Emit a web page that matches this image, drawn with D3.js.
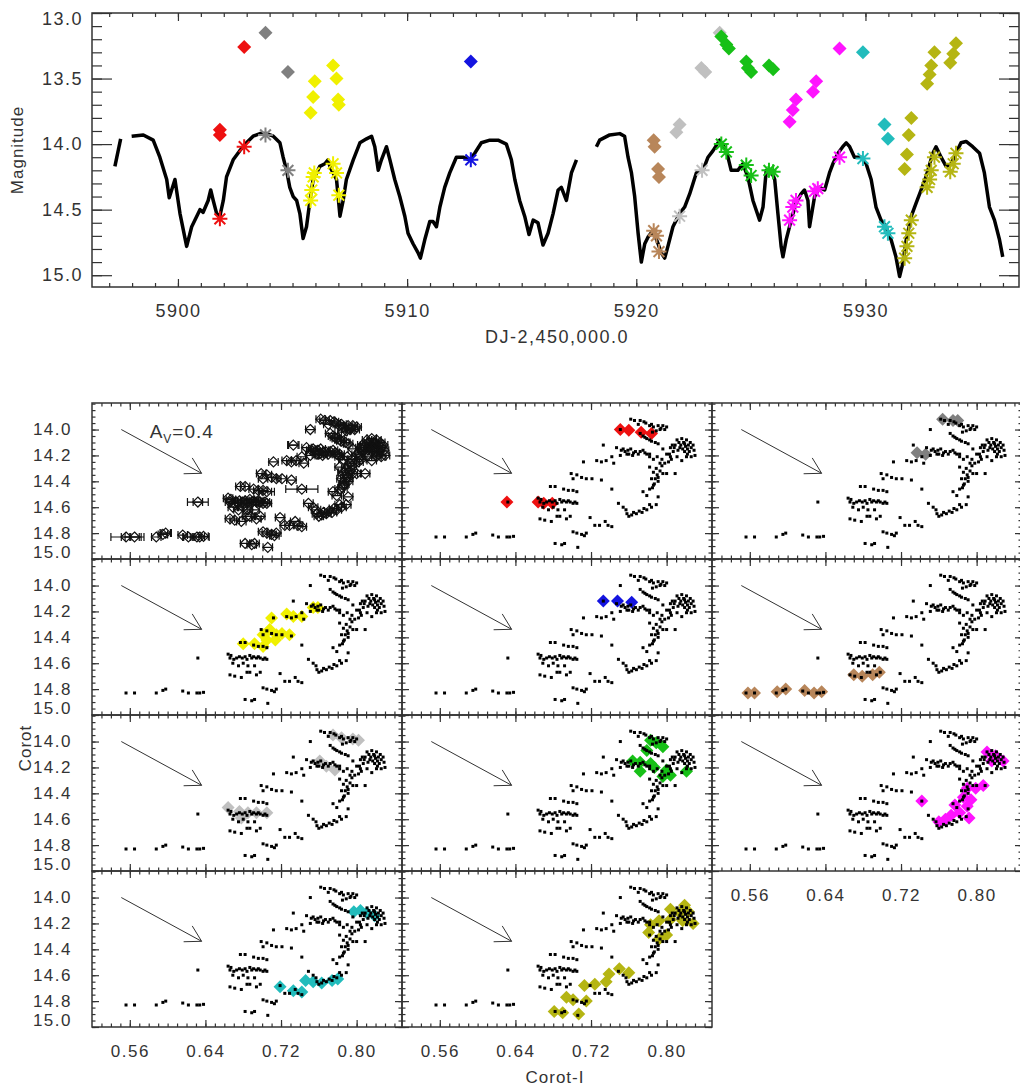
<!DOCTYPE html>
<html>
<head>
<meta charset="utf-8">
<script src="https://cdn.jsdelivr.net/npm/d3@7"></script>
<style>
  body { margin: 0; background: #fff; }
  text { font-family: "Liberation Sans", Arial, sans-serif; fill: #333; }
</style>
</head>
<body>
<div id="chart"></div>
<script>
// ---- Light curve (Corot) ----
const lcPart1 = [[5897.25,14.17],[5897.50,13.96]];
const lcPart2 = [[5897.98,13.94],[5898.49,13.93],[5898.92,13.97],[5899.21,14.10],[5899.51,14.27],[5899.62,14.41],[5899.87,14.27],[5900.09,14.53],[5900.38,14.78],[5900.60,14.63],[5900.96,14.50],[5901.10,14.52],[5901.32,14.43],[5901.43,14.35],[5901.54,14.43],[5901.69,14.53],[5901.83,14.55],[5901.98,14.43],[5902.12,14.25],[5902.41,14.12],[5902.70,14.05],[5902.99,13.99],[5903.28,13.94],[5903.58,13.92],[5903.87,13.92],[5904.16,13.94],[5904.45,13.99],[5904.59,14.10],[5904.74,14.20],[5904.88,14.33],[5905.03,14.40],[5905.18,14.43],[5905.32,14.53],[5905.46,14.72],[5905.61,14.63],[5905.76,14.43],[5905.90,14.27],[5906.05,14.22],[5906.19,14.17],[5906.41,14.15],[5906.55,14.12],[5906.63,14.17],[5906.77,14.22],[5906.92,14.27],[5907.07,14.55],[5907.21,14.43],[5907.35,14.27],[5907.65,14.12],[5907.94,13.99],[5908.23,13.96],[5908.45,13.94],[5908.59,14.02],[5908.74,14.20],[5908.88,14.12],[5909.10,14.02],[5909.25,14.12],[5909.46,14.27],[5909.68,14.40],[5909.90,14.55],[5910.04,14.68],[5910.26,14.76],[5910.48,14.83],[5910.58,14.87],[5910.77,14.73],[5910.99,14.59],[5911.13,14.59],[5911.28,14.63],[5911.43,14.48],[5911.64,14.33],[5911.86,14.22],[5912.15,14.10],[5912.44,14.10],[5912.73,14.12],[5912.95,14.07],[5913.24,13.99],[5913.61,13.97],[5913.97,13.97],[5914.33,14.00],[5914.55,14.12],[5914.70,14.27],[5914.91,14.43],[5915.13,14.55],[5915.32,14.69],[5915.50,14.58],[5915.71,14.60],[5915.93,14.77],[5916.15,14.68],[5916.37,14.53],[5916.59,14.35],[5916.73,14.33],[5916.95,14.43],[5917.17,14.22],[5917.39,14.12]];
const lcPart3 = [[5918.26,14.02],[5918.40,13.97],[5918.84,13.93],[5919.28,13.92],[5919.49,13.94],[5919.64,14.10],[5919.79,14.22],[5919.93,14.40],[5920.08,14.68],[5920.22,14.90],[5920.37,14.76],[5920.51,14.71],[5920.73,14.66],[5920.95,14.76],[5921.09,14.83],[5921.24,14.87],[5921.38,14.78],[5921.60,14.63],[5921.89,14.53],[5922.11,14.48],[5922.33,14.38],[5922.62,14.22],[5922.91,14.20],[5923.13,14.10],[5923.35,14.05],[5923.64,13.97],[5923.93,14.05],[5924.14,14.20],[5924.43,14.20],[5924.65,14.15],[5924.87,14.25],[5925.09,14.43],[5925.38,14.58],[5925.53,14.48],[5925.67,14.20],[5925.88,14.20],[5926.04,14.27],[5926.18,14.53],[5926.32,14.78],[5926.40,14.86],[5926.54,14.73],[5926.76,14.58],[5926.97,14.45],[5927.19,14.38],[5927.34,14.35],[5927.49,14.43],[5927.56,14.63],[5927.78,14.40],[5928.00,14.33],[5928.22,14.35],[5928.43,14.22],[5928.58,14.15],[5928.80,14.07],[5929.01,14.02],[5929.16,13.99],[5929.31,14.02],[5929.52,14.10],[5929.81,14.10],[5930.03,14.15],[5930.25,14.27],[5930.46,14.48],[5930.68,14.58],[5930.90,14.63],[5931.12,14.73],[5931.33,14.86],[5931.49,15.01],[5931.63,14.91],[5931.78,14.73],[5932.00,14.55],[5932.21,14.45],[5932.43,14.35],[5932.64,14.25],[5932.94,14.07],[5933.08,14.02],[5933.30,14.10],[5933.52,14.17],[5933.74,14.15],[5933.95,14.07],[5934.17,13.99],[5934.39,13.98],[5934.68,14.02],[5934.98,14.07],[5935.19,14.22],[5935.41,14.48],[5935.63,14.58],[5935.85,14.73],[5935.99,14.86]];

// ---- Coloured epochs on the light curve: diamonds (other band) and asterisks (Corot) ----
const redDiamonds = [[5901.83,13.89],[5901.83,13.93],[5902.89,13.26]];
const redStars = [[5901.83,14.57],[5902.89,14.02]];
const grayDiamonds = [[5903.82,13.15],[5904.80,13.45]];
const grayStars = [[5903.82,13.93],[5904.80,14.20]];
const yellowDiamonds = [[5905.79,13.76],[5905.90,13.64],[5905.97,13.52],[5906.77,13.40],[5906.92,13.50],[5906.99,13.66],[5907.02,13.70]];
const yellowStars = [[5905.79,14.43],[5905.84,14.35],[5905.90,14.25],[5905.95,14.22],[5906.77,14.15],[5906.92,14.22],[5907.02,14.39]];
const blueDiamonds = [[5912.78,13.37]];
const blueStars = [[5912.78,14.12]];
const brownDiamonds = [[5920.76,13.97],[5920.80,14.02],[5920.95,14.19],[5920.99,14.25]];
const brownStars = [[5920.76,14.66],[5920.88,14.70],[5920.99,14.82]];
const silverDiamonds = [[5921.75,13.91],[5921.89,13.85],[5922.84,13.42],[5923.01,13.45],[5923.64,13.15]];
const silverStars = [[5921.89,14.55],[5922.87,14.20]];
const greenDiamonds = [[5923.71,13.18],[5923.93,13.24],[5924.04,13.27],[5924.80,13.37],[5924.87,13.42],[5925.01,13.45],[5925.79,13.40],[5925.97,13.43]];
const greenStars = [[5923.71,14.00],[5923.93,14.06],[5924.80,14.16],[5925.01,14.24],[5925.79,14.20],[5925.97,14.21]];
const magentaDiamonds = [[5926.69,13.83],[5926.83,13.74],[5926.97,13.66],[5927.71,13.60],[5927.85,13.52],[5928.87,13.27]];
const magentaStars = [[5926.69,14.58],[5926.83,14.48],[5926.97,14.43],[5927.78,14.36],[5927.92,14.34],[5928.87,14.10]];
const cyanDiamonds = [[5929.89,13.30],[5930.83,13.85],[5930.98,13.96]];
const cyanStars = [[5929.89,14.11],[5930.83,14.63],[5930.98,14.68]];
const oliveDiamonds = [[5931.71,14.19],[5931.81,14.08],[5931.89,13.93],[5932.00,13.80],[5932.69,13.54],[5932.80,13.47],[5932.87,13.40],[5933.01,13.30],[5933.70,13.38],[5933.83,13.31],[5933.95,13.23]];
const oliveStars = [[5931.71,14.87],[5931.81,14.78],[5931.89,14.68],[5932.00,14.58],[5932.69,14.33],[5932.80,14.27],[5932.87,14.20],[5933.01,14.10],[5933.70,14.21],[5933.83,14.15],[5933.95,14.07]];

// ---- Colour-magnitude diagram: all points (Corot-I, Corot) ----
const cmdPoints = [
  [0.556,14.83],[0.565,14.83],[0.588,14.83],[0.595,14.81],[0.598,14.80],[0.616,14.815],[0.622,14.83],[0.631,14.83],[0.634,14.83],[0.638,14.825],
  [0.632,14.56],
  [0.664,14.53],[0.666,14.56],[0.669,14.60],[0.673,14.56],[0.676,14.55],[0.682,14.55],[0.687,14.54],[0.691,14.55],[0.694,14.56],[0.698,14.56],[0.701,14.57],[0.705,14.57],[0.680,14.60],[0.675,14.62],[0.685,14.62],[0.692,14.62],
  [0.667,14.54],[0.679,14.56],[0.689,14.56],[0.696,14.55],[0.703,14.56],[0.670,14.57],[0.684,14.57],
  [0.677,14.44],[0.682,14.44],[0.691,14.46],[0.696,14.47],[0.701,14.47],[0.705,14.48],
  [0.701,14.38],[0.699,14.34],[0.705,14.35],[0.710,14.37],[0.715,14.38],[0.721,14.38],[0.731,14.39],
  [0.712,14.25],[0.726,14.24],[0.731,14.25],[0.736,14.24],[0.744,14.26],[0.742,14.21],[0.751,14.20],[0.758,14.19],[0.733,14.12],
  [0.666,14.69],[0.671,14.70],[0.678,14.71],[0.684,14.67],[0.687,14.67],[0.694,14.69],[0.698,14.67],[0.701,14.79],[0.705,14.80],[0.710,14.81],[0.713,14.82],[0.715,14.80],[0.682,14.88],[0.689,14.89],[0.692,14.88],[0.706,14.91],
  [0.719,14.68],[0.724,14.74],[0.729,14.74],[0.735,14.71],[0.738,14.74],[0.742,14.75],[0.742,14.46],[0.749,14.57],[0.754,14.60],[0.758,14.65],[0.763,14.66],[0.768,14.65],[0.774,14.64],[0.779,14.62],[0.784,14.60],[0.789,14.58],[0.791,14.52],
  [0.757,14.62],[0.765,14.64],[0.771,14.63],[0.760,14.67],[0.776,14.61],[0.782,14.58],
  [0.775,14.48],[0.779,14.51],[0.782,14.46],[0.786,14.43],[0.784,14.38],[0.788,14.38],[0.791,14.37],[0.796,14.34],[0.800,14.34],[0.809,14.34],[0.786,14.33],[0.789,14.30],[0.793,14.26],[0.798,14.26],[0.802,14.25],[0.795,14.23],[0.804,14.21],[0.811,14.21],[0.821,14.21],[0.826,14.21],[0.816,14.24],[0.782,14.29],[0.791,14.40],
  [0.793,14.32],[0.790,14.35],[0.787,14.42],[0.785,14.45],[0.795,14.28],[0.805,14.23],
  [0.747,14.14],[0.754,14.15],[0.759,14.16],[0.762,14.15],[0.767,14.17],[0.770,14.19],[0.775,14.16],[0.779,14.19],[0.760,14.19],[0.756,14.17],[0.786,14.23],[0.782,14.19],
  [0.765,14.18],[0.772,14.17],[0.777,14.18],[0.752,14.16],[0.764,14.20],[0.782,14.21],[0.790,14.21],[0.800,14.19],
  [0.751,14.00],[0.762,13.92],[0.772,13.93],[0.776,13.94],[0.782,13.97],[0.786,13.98],[0.791,13.97],[0.796,13.97],[0.800,13.98],[0.789,14.01],[0.793,14.00],[0.772,14.03],[0.775,14.05],[0.779,14.07],[0.782,14.08],[0.788,14.10],[0.791,14.11],
  [0.778,13.95],[0.784,13.96],[0.794,13.99],[0.798,14.00],[0.785,14.02],[0.777,14.06],[0.784,14.09],[0.766,13.93],[0.770,13.96],
  [0.796,14.15],[0.804,14.14],[0.809,14.12],[0.814,14.14],[0.819,14.11],[0.823,14.12],[0.826,14.14],[0.811,14.08],[0.816,14.07],[0.818,14.10],[0.821,14.08],[0.825,14.10],[0.812,14.16],[0.819,14.17],[0.807,14.17],
  [0.806,14.12],[0.815,14.12],[0.822,14.15],[0.828,14.12],[0.813,14.10],[0.808,14.14],[0.817,14.15],[0.824,14.17],[0.829,14.16],[0.820,14.13],[0.803,14.19],[0.830,14.20],[0.822,14.19]
];
// points with wide colour error bars (colour, magnitude, half-width)
const wideBars = [[0.556,14.83,0.016],[0.565,14.83,0.010],[0.598,14.80,0.006],[0.622,14.83,0.006],[0.634,14.83,0.010],[0.632,14.56,0.011],[0.742,14.46,0.017],[0.733,14.12,0.006],[0.705,14.48,0.008],[0.786,14.33,0.006]];

// ---- Highlighted CMD epochs per colour ----
const cmdRed = [[0.631,14.56],[0.664,14.56],[0.670,14.57],[0.679,14.57],[0.751,14.00],[0.760,14.005],[0.773,14.02],[0.784,14.03]];
const cmdGray = [[0.764,13.92],[0.775,13.93],[0.780,13.93],[0.737,14.18],[0.746,14.19]];
const cmdYellow = [[0.680,14.45],[0.692,14.45],[0.701,14.47],[0.705,14.42],[0.714,14.42],[0.701,14.38],[0.708,14.34],[0.715,14.38],[0.721,14.37],[0.729,14.38],[0.710,14.25],[0.726,14.22],[0.733,14.24],[0.742,14.24],[0.754,14.17],[0.759,14.17]];
const cmdBlue = [[0.733,14.12],[0.748,14.12],[0.763,14.13]];
const cmdBrown = [[0.558,14.83],[0.565,14.83],[0.589,14.82],[0.598,14.80],[0.618,14.81],[0.628,14.83],[0.636,14.82],[0.670,14.69],[0.679,14.70],[0.690,14.69],[0.697,14.67]];
const cmdSilver = [[0.664,14.51],[0.676,14.54],[0.685,14.55],[0.694,14.55],[0.705,14.55],[0.678,14.59],[0.761,14.15],[0.768,14.19],[0.777,14.22],[0.775,13.95],[0.784,13.97],[0.796,13.98],[0.802,13.99]];
const cmdGreen = [[0.783,13.99],[0.789,14.01],[0.779,14.07],[0.796,14.04],[0.764,14.15],[0.772,14.16],[0.783,14.17],[0.772,14.23],[0.787,14.20],[0.800,14.22],[0.804,14.26],[0.821,14.23],[0.796,14.27]];
const cmdMagenta = [[0.811,14.08],[0.820,14.11],[0.828,14.15],[0.816,14.15],[0.807,14.34],[0.799,14.36],[0.790,14.36],[0.786,14.43],[0.794,14.45],[0.777,14.49],[0.790,14.50],[0.782,14.55],[0.792,14.59],[0.773,14.57],[0.760,14.62],[0.767,14.60],[0.742,14.46]];
const cmdCyan = [[0.719,14.69],[0.733,14.72],[0.742,14.73],[0.746,14.64],[0.754,14.65],[0.763,14.66],[0.774,14.64],[0.780,14.63],[0.797,14.11],[0.804,14.10],[0.811,14.12],[0.819,14.14]];
const cmdOlive = [[0.681,14.88],[0.690,14.89],[0.707,14.90],[0.694,14.77],[0.701,14.79],[0.715,14.80],[0.713,14.68],[0.724,14.67],[0.736,14.65],[0.739,14.59],[0.750,14.55],[0.760,14.58],[0.781,14.27],[0.792,14.32],[0.800,14.29],[0.783,14.21],[0.792,14.18],[0.804,14.17],[0.817,14.18],[0.828,14.20],[0.804,14.09],[0.819,14.06],[0.823,14.11],[0.814,14.12]];

const groupColors = ["#ee1111","#808080","#f0f000","#1414e0","#b8865a","#c0c0c0","#17c017","#ff14ff","#22bcbc","#b5b513"];
const diamondSets = [redDiamonds, grayDiamonds, yellowDiamonds, blueDiamonds, brownDiamonds, silverDiamonds, greenDiamonds, magentaDiamonds, cyanDiamonds, oliveDiamonds];
const starSets = [redStars, grayStars, yellowStars, blueStars, brownStars, silverStars, greenStars, magentaStars, cyanStars, oliveStars];
const cmdSets = [cmdRed, cmdGray, cmdYellow, cmdBlue, cmdBrown, cmdSilver, cmdGreen, cmdMagenta, cmdCyan, cmdOlive];

const reddening = [[0.551,14.0],[0.636,14.338]];   // A_V = 0.4 vector

// ---- SVG ----
const svg = d3.select("#chart").append("svg")
  .attr("width", 1020).attr("height", 1088);

const diamond = r => `M0,${-r}L${r},0L0,${r}L${-r},0Z`;
const asterisk = r => {
  const q = r * 0.72;
  return `M${-r},0L${r},0M0,${-r}L0,${r}M${-q},${-q}L${q},${q}M${-q},${q}L${q},${-q}`;
};

// Draws ticks on the four sides of a box (ticks pointing inward), labels optional
function frame(g, xs, ys, w, h, o) {
  const add = (gen, tr) => {
    const a = g.append("g").attr("transform", tr).call(gen);
    a.select(".domain").remove();
    a.attr("font-family", null).attr("font-size", null).attr("color", "#333");
    a.selectAll("line").attr("stroke-width", 1.2);
    a.selectAll("text").style("font-size", o.fontSize + "px").style("letter-spacing", o.spacing + "px");
    return a;
  };
  const none = () => "";
  add(d3.axisBottom(xs).tickValues(o.xMinor).tickSize(-o.xMinLen).tickFormat(none), `translate(0,${h})`);
  add(d3.axisTop(xs).tickValues(o.xMinor).tickSize(-o.xMinLen).tickFormat(none), "translate(0,0)");
  add(d3.axisLeft(ys).tickValues(o.yMinor).tickSize(-o.yMinLen).tickFormat(none), "translate(0,0)");
  add(d3.axisRight(ys).tickValues(o.yMinor).tickSize(-o.yMinLen).tickFormat(none), `translate(${w},0)`);
  const bx = add(d3.axisBottom(xs).tickValues(o.xMajor).tickSize(-o.xMajLen).tickPadding(o.xPad)
    .tickFormat(o.xLabels ? o.xFmt : none), `translate(0,${h})`);
  add(d3.axisTop(xs).tickValues(o.xMajor).tickSize(-o.xMajLen).tickFormat(none), "translate(0,0)");
  const ly = add(d3.axisLeft(ys).tickValues(o.yMajor).tickSize(-o.yMajLen).tickPadding(o.yPad)
    .tickFormat(o.yLabels ? o.yFmt : none), "translate(0,0)");
  add(d3.axisRight(ys).tickValues(o.yMajor).tickSize(-o.yMajLen).tickFormat(none), `translate(${w},0)`);
  g.append("rect").attr("width", w).attr("height", h)
    .attr("fill", "none").attr("stroke", "#333").attr("stroke-width", 1.5);
  return { bx, ly };
}

// ================= Top panel: light curve =================
const tW = 927, tH = 274;
const topG = svg.append("g").attr("transform", "translate(92,13)");
const xTop = d3.scaleLinear().domain([5896.25, 5936.7]).range([0, tW]);
const yTop = d3.scaleLinear().domain([13.0, 15.09]).range([0, tH]);

const line = d3.line().x(d => xTop(d[0])).y(d => yTop(d[1]));
[lcPart1, lcPart2, lcPart3].forEach(seg => {
  topG.append("path").attr("d", line(seg))
    .attr("fill", "none").attr("stroke", "#000")
    .attr("stroke-width", 3.5).attr("stroke-linejoin", "round");
});

groupColors.forEach((col, i) => {
  topG.append("g").selectAll("path").data(diamondSets[i]).join("path")
    .attr("d", diamond(7))
    .attr("transform", d => `translate(${xTop(d[0])},${yTop(d[1])})`)
    .attr("fill", col);
  topG.append("g").selectAll("path").data(starSets[i]).join("path")
    .attr("d", asterisk(7.5))
    .attr("transform", d => `translate(${xTop(d[0])},${yTop(d[1])})`)
    .attr("fill", "none").attr("stroke", col).attr("stroke-width", 2);
});

const topAx = frame(topG, xTop, yTop, tW, tH, {
  xMajor: [5900, 5910, 5920, 5930], xMinor: d3.range(5897, 5937, 1),
  yMajor: [13.0, 13.5, 14.0, 14.5, 15.0], yMinor: d3.range(13.0, 15.09, 0.1),
  xMajLen: 8, xMinLen: 4, yMajLen: 20, yMinLen: 10,
  xLabels: true, yLabels: true, xFmt: d3.format("d"), yFmt: d3.format(".1f"),
  xPad: 17, yPad: 9, fontSize: 18, spacing: 1.5
});
topAx.ly.selectAll("text").filter(d => d === 13.0).attr("dy", "0.62em");

svg.append("text").attr("transform", "translate(23,150) rotate(-90)")
  .attr("text-anchor", "middle").style("font-size", "17px").style("letter-spacing", "1px")
  .text("Magnitude");
svg.append("text").attr("x", 557).attr("y", 343).attr("text-anchor", "middle")
  .style("font-size", "18px").style("letter-spacing", "1.5px")
  .text("DJ-2,450,000.0");

// ================= CMD panels =================
const pW = 310, pH = 156;
const colX = [92, 402, 712], rowY = [403, 559, 715, 871];
const cx = d3.scaleLinear().domain([0.52, 0.848]).range([0, pW]);
const cy = d3.scaleLinear().domain([13.795, 15.0]).range([0, pH]);

for (let i = 0; i < 11; i++) {
  const col = i % 3, row = Math.floor(i / 3);
  const p = svg.append("g").attr("transform", `translate(${colX[col]},${rowY[row]})`);

  if (i === 0) {
    // all epochs: open diamonds with colour error bars
    const eb = p.append("g").attr("stroke", "#111").attr("stroke-width", 1.2).attr("fill", "none");
    const bars = cmdPoints.map(d => [d[0], d[1], 0.005]).concat(wideBars);
    bars.forEach(d => {
      const x0 = cx(d[0] - d[2]), x1 = cx(d[0] + d[2]), y = cy(d[1]);
      eb.append("path").attr("d", `M${x0},${y}L${x1},${y}M${x0},${y - 4}L${x0},${y + 4}M${x1},${y - 4}L${x1},${y + 4}`);
    });
    eb.selectAll("path.dm").data(cmdPoints).join("path").attr("class", "dm")
      .attr("d", diamond(5))
      .attr("transform", d => `translate(${cx(d[0])},${cy(d[1])})`);
  } else {
    p.append("g").selectAll("path").data(cmdSets[i - 1]).join("path")
      .attr("d", diamond(6.5))
      .attr("transform", d => `translate(${cx(d[0])},${cy(d[1])})`)
      .attr("fill", groupColors[i - 1]);
    p.append("g").selectAll("rect").data(cmdPoints).join("rect")
      .attr("x", d => cx(d[0]) - 1.5).attr("y", d => cy(d[1]) - 1.5)
      .attr("width", 3).attr("height", 3).attr("fill", "#000");
  }

  // reddening arrow
  const ax0 = cx(reddening[0][0]), ay0 = cy(reddening[0][1]);
  const ax1 = cx(reddening[1][0]), ay1 = cy(reddening[1][1]);
  const ang = Math.atan2(ay1 - ay0, ax1 - ax0);
  const hl = 18, spread = Math.PI / 6;
  const h1 = [ax1 - hl * Math.cos(ang - spread), ay1 - hl * Math.sin(ang - spread)];
  const h2 = [ax1 - hl * Math.cos(ang + spread), ay1 - hl * Math.sin(ang + spread)];
  p.append("path")
    .attr("d", `M${ax0},${ay0}L${ax1},${ay1}M${h1[0]},${h1[1]}L${ax1},${ay1}L${h2[0]},${h2[1]}`)
    .attr("fill", "none").attr("stroke", "#333").attr("stroke-width", 1);

  if (i === 0) {
    const av = p.append("text").attr("x", cx(0.581)).attr("y", cy(14.0) + 8)
      .style("font-size", "19px").style("letter-spacing", "1px");
    av.append("tspan").text("A");
    av.append("tspan").attr("dy", 5).style("font-size", "12px").text("V");
    av.append("tspan").attr("dy", -5).text("=0.4");
  }

  const showX = (row === 3) || (col === 2 && row === 2);
  const ax = frame(p, cx, cy, pW, pH, {
    xMajor: [0.56, 0.64, 0.72, 0.80], xMinor: d3.range(0.53, 0.848, 0.01),
    yMajor: [14.0, 14.2, 14.4, 14.6, 14.8, 15.0], yMinor: d3.range(13.8, 15.001, 0.05),
    xMajLen: 7, xMinLen: 3.5, yMajLen: 7, yMinLen: 3.5,
    xLabels: showX, yLabels: col === 0, xFmt: d3.format(".2f"), yFmt: d3.format(".1f"),
    xPad: 18, yPad: 20, fontSize: 17, spacing: 1.5
  });
  ax.ly.selectAll("text").filter(d => Math.abs(d - 15.0) < 1e-6).attr("dy", "-0.1em");
}

svg.append("text").attr("transform", "translate(31,748) rotate(-90)")
  .attr("text-anchor", "middle").style("font-size", "17px").style("letter-spacing", "1px")
  .text("Corot");
svg.append("text").attr("x", 555).attr("y", 1083).attr("text-anchor", "middle")
  .style("font-size", "17px").style("letter-spacing", "1px")
  .text("Corot-I");
</script>
</body>
</html>
